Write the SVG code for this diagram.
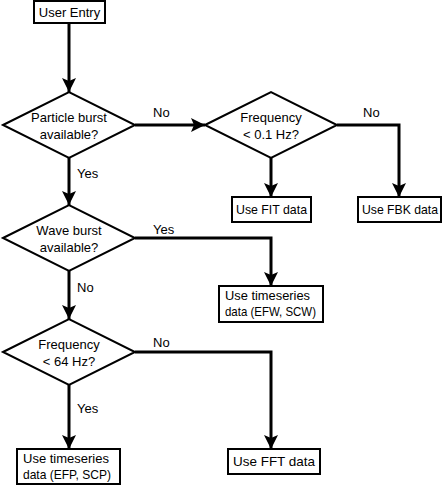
<svg xmlns="http://www.w3.org/2000/svg" width="444" height="487" viewBox="0 0 444 487">
<style>
.box{fill:#fff;stroke:#000;stroke-width:2}
.dia{fill:#fff;stroke:#000;stroke-width:2;stroke-linejoin:miter}
.con{fill:none;stroke:#000;stroke-width:3}
text{font-family:"Liberation Sans",Arial,sans-serif;font-size:13px;fill:#000}
.c{text-anchor:middle}
</style>
<defs>
<marker id="ah" markerUnits="userSpaceOnUse" markerWidth="14" markerHeight="16" viewBox="0 0 14 16" refX="14" refY="7" orient="auto">
<path d="M0,0 L14,7 L0,14 L3,7 Z" fill="#000"/>
</marker>
</defs>
<rect width="444" height="487" fill="#fff"/>
<g id="connectors">
<path class="con" d="M69,23 V92" marker-end="url(#ah)"/>
<path class="con" d="M135,125 H205" marker-end="url(#ah)"/>
<path class="con" d="M337,125 H399 V197" marker-end="url(#ah)"/>
<path class="con" d="M271,158 V197" marker-end="url(#ah)"/>
<path class="con" d="M69,158 V205" marker-end="url(#ah)"/>
<path class="con" d="M135,238 H271 V286" marker-end="url(#ah)"/>
<path class="con" d="M69,271 V319" marker-end="url(#ah)"/>
<path class="con" d="M135,352 H271 V449" marker-end="url(#ah)"/>
<path class="con" d="M69,385 V449" marker-end="url(#ah)"/>
<text x="153" y="117">No</text>
<text x="363" y="117">No</text>
<text x="77" y="178">Yes</text>
<text x="153" y="234">Yes</text>
<text x="77" y="292">No</text>
<text x="153" y="347">No</text>
<text x="77" y="413">Yes</text>
</g>
<g id="user-entry">
<rect class="box" x="34" y="1" width="71" height="22"/>
<text class="c" x="69.5" y="17">User Entry</text>
</g>
<g id="particle-burst">
<polygon class="dia" points="3,125 69,92 135,125 69,158"/>
<text class="c" x="69" y="122">Particle burst</text>
<text class="c" x="69" y="139">available?</text>
</g>
<g id="freq-01">
<polygon class="dia" points="205,125 271,92 337,125 271,158"/>
<text class="c" x="271" y="122">Frequency</text>
<text class="c" x="271" y="139">&lt; 0.1 Hz?</text>
</g>
<g id="fit">
<rect class="box" x="232" y="197" width="79" height="25"/>
<text x="236" y="214" textLength="71" lengthAdjust="spacingAndGlyphs">Use FIT data</text>
</g>
<g id="fbk">
<rect class="box" x="358" y="197" width="83" height="25"/>
<text x="362" y="214" textLength="76" lengthAdjust="spacingAndGlyphs">Use FBK data</text>
</g>
<g id="wave-burst">
<polygon class="dia" points="3,238 69,205 135,238 69,271"/>
<text class="c" x="69" y="235">Wave burst</text>
<text class="c" x="69" y="252">available?</text>
</g>
<g id="efw">
<rect class="box" x="219" y="286" width="104" height="36"/>
<text x="225" y="300" textLength="85" lengthAdjust="spacingAndGlyphs">Use timeseries</text>
<text x="225" y="316" textLength="91" lengthAdjust="spacingAndGlyphs">data (EFW, SCW)</text>
</g>
<g id="freq-64">
<polygon class="dia" points="3,352 69,319 135,352 69,385"/>
<text class="c" x="69" y="349">Frequency</text>
<text class="c" x="69" y="366">&lt; 64 Hz?</text>
</g>
<g id="fft">
<rect class="box" x="228" y="449" width="92" height="25"/>
<text x="233" y="466" textLength="82" lengthAdjust="spacingAndGlyphs">Use FFT data</text>
</g>
<g id="efp">
<rect class="box" x="17" y="449" width="103" height="35"/>
<text x="23" y="463" textLength="86" lengthAdjust="spacingAndGlyphs">Use timeseries</text>
<text x="23" y="479" textLength="88" lengthAdjust="spacingAndGlyphs">data (EFP, SCP)</text>
</g>
</svg>
